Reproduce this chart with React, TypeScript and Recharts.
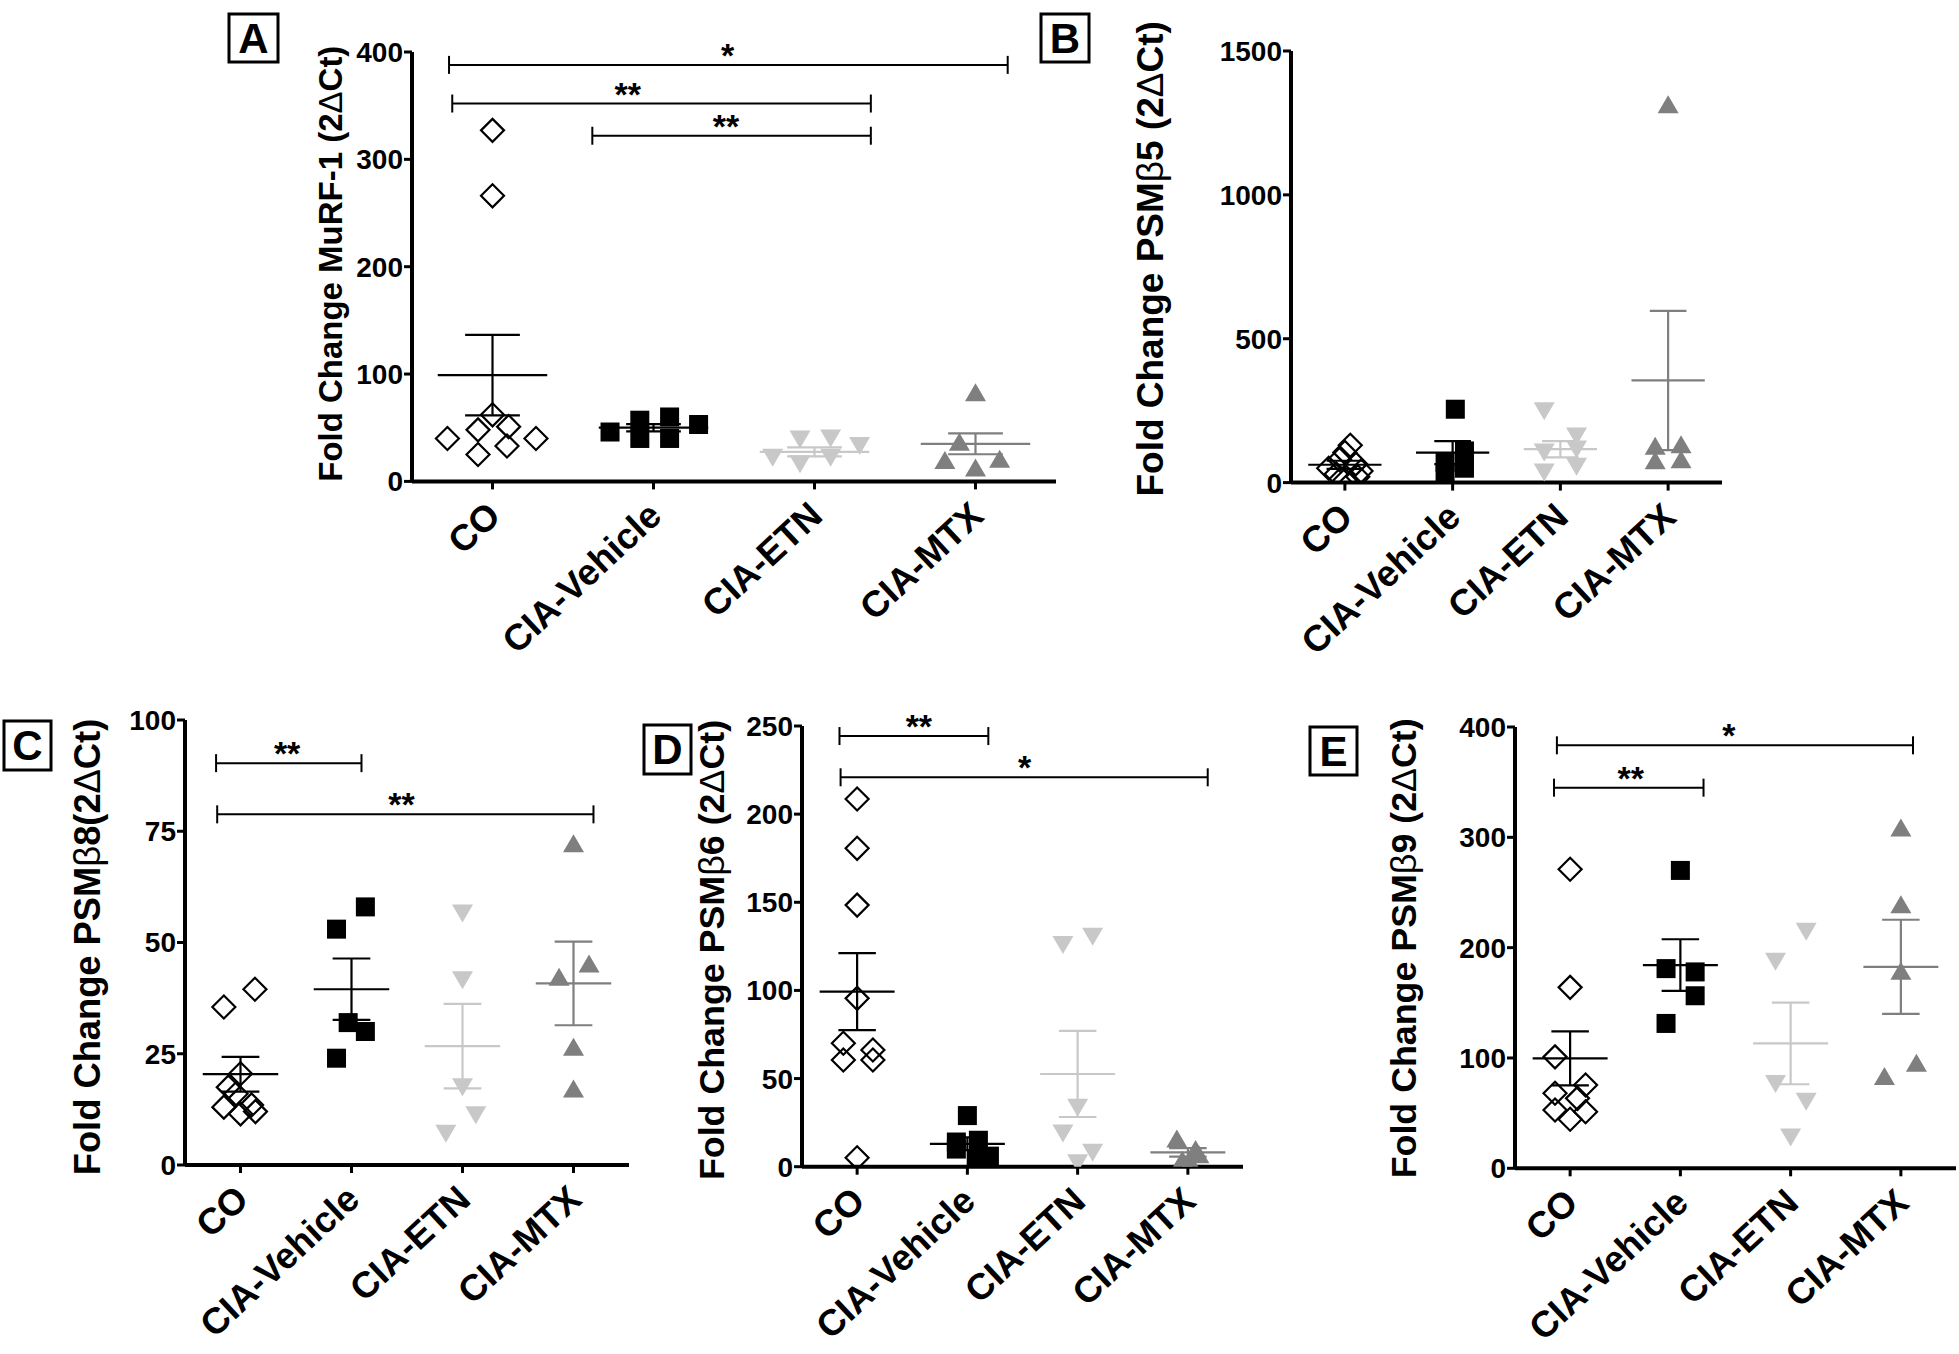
import React from 'react';
import { ScatterChart, Scatter, XAxis, YAxis, ReferenceLine } from 'recharts';

type Pt = [number, number];
type Bracket = { from: number; to: number; y: number; text: string; at: number };

const GROUPS = ['CO', 'CIA-Vehicle', 'CIA-ETN', 'CIA-MTX'];

// Each point: [horizontal spread inside the group (category units), fold change]
// ---- Panel A : MuRF-1
const A_CO: Pt[] = [[0, 327], [0, 266], [0, 62], [-0.09, 48], [0.1, 51], [-0.28, 40], [0.27, 40], [-0.09, 25], [0.09, 33]];
const A_VEH: Pt[] = [[-0.27, 46], [-0.085, 57], [-0.085, 40], [0.1, 60], [0.1, 40], [0.28, 53]];
const A_ETN: Pt[] = [[-0.26, 22], [-0.09, 39], [-0.09, 16], [0.1, 40], [0.1, 22], [0.28, 33]];
const A_MTX: Pt[] = [[0, 83], [-0.1, 37], [-0.19, 20], [0, 13], [0.15, 21]];
const A_MEAN = [99, 50, 27.5, 35];
const A_SEM = [37.5, 3.4, 4.2, 9.7];
const A_TICKS = [0, 100, 200, 300, 400];
const A_BRACKETS: Bracket[] = [
  { from: -0.27, to: 3.2, y: 388, text: '*', at: 1.46 },
  { from: -0.25, to: 2.35, y: 352, text: '**', at: 0.84 },
  { from: 0.62, to: 2.35, y: 322, text: '**', at: 1.45 },
];
const A_TITLE = ['Fold Change MuRF-1 (2', 'Δ', 'Ct)'];

// ---- Panel B : PSMβ5
const B_CO: Pt[] = [[0.05, 130], [0, 105], [-0.05, 80], [0.1, 65], [-0.15, 50], [0.15, 40], [-0.08, 30], [0.12, 20], [0, 8]];
const B_VEH: Pt[] = [[0.025, 255], [0.11, 110], [0.11, 50], [-0.07, 70], [-0.07, 35]];
const B_ETN: Pt[] = [[-0.15, 248], [-0.15, 105], [-0.15, 35], [0.15, 160], [0.15, 115], [0.15, 55]];
const B_MTX: Pt[] = [[0, 1315], [-0.12, 128], [0.12, 133], [-0.12, 78], [0.12, 81]];
const B_MEAN = [62, 104, 116, 355];
const B_SEM = [14, 40, 28, 242];
const B_TICKS = [0, 500, 1000, 1500];
const B_BRACKETS: Bracket[] = [];
const B_TITLE = ['Fold Change PSM', 'β', '5 (2', 'Δ', 'Ct)'];

// ---- Panel C : PSMβ8
const C_CO: Pt[] = [[-0.15, 35.5], [0.13, 39.5], [0, 20.5], [-0.11, 17.5], [-0.04, 16], [-0.15, 13], [0.1, 13.5], [0, 11.5], [0.135, 12]];
const C_VEH: Pt[] = [[-0.135, 53], [0.125, 58], [-0.03, 32], [0.125, 30], [-0.135, 24]];
const C_ETN: Pt[] = [[0, 56.5], [0, 41.5], [0, 17.5], [0.12, 11.2], [-0.15, 7]];
const C_MTX: Pt[] = [[0, 72.3], [0.14, 45.3], [-0.13, 42.3], [0, 26.6], [0, 17.2]];
const C_MEAN = [20.4, 39.5, 26.7, 40.8];
const C_SEM = [3.9, 6.9, 9.5, 9.4];
const C_TICKS = [0, 25, 50, 75, 100];
const C_BRACKETS: Bracket[] = [
  { from: -0.22, to: 1.09, y: 90.3, text: '**', at: 0.42 },
  { from: -0.21, to: 3.18, y: 78.8, text: '**', at: 1.45 },
];
const C_TITLE = ['Fold Change PSM', 'β', '8(2', 'Δ', 'Ct)'];

// ---- Panel D : PSMβ6
const D_CO: Pt[] = [[0, 208.6], [0, 180.6], [0, 148.4], [0, 95.5], [-0.125, 70], [0.143, 66.2], [-0.125, 60.5], [0.143, 60.5], [0, 5.1]];
const D_VEH: Pt[] = [[0, 29], [-0.1, 14], [-0.1, 10], [0.1, 15], [0.2, 6], [0.08, 4]];
const D_ETN: Pt[] = [[-0.133, 125.8], [0.136, 130.5], [0, 33.5], [-0.133, 18.9], [0.136, 7.9], [0, 1.9]];
const D_MTX: Pt[] = [[-0.1, 16], [0.07, 10], [0.02, 3], [0.1, 7], [-0.05, 4]];
const D_MEAN = [99.3, 13, 52.6, 8.1];
const D_SEM = [21.8, 3.6, 24.4, 2.4];
const D_TICKS = [0, 50, 100, 150, 200, 250];
const D_BRACKETS: Bracket[] = [
  { from: -0.16, to: 1.19, y: 244.3, text: '**', at: 0.56 },
  { from: -0.15, to: 3.18, y: 220.9, text: '*', at: 1.52 },
];
const D_TITLE = ['Fold Change PSM', 'β', '6 (2', 'Δ', 'Ct)'];

// ---- Panel E : PSMβ9
const E_CO: Pt[] = [[0, 271], [0, 164], [-0.137, 101], [0.14, 75.5], [-0.137, 68], [0.067, 63.4], [-0.137, 52.8], [0.14, 51.3], [0, 44.4]];
const E_VEH: Pt[] = [[0, 270], [-0.13, 181], [0.134, 178], [0.134, 156.4], [-0.13, 131.3]];
const E_ETN: Pt[] = [[0.141, 214.3], [-0.137, 187.2], [-0.137, 76.4], [0.141, 60.4], [0, 28]];
const E_MTX: Pt[] = [[0, 309], [0, 239.4], [0, 179], [0.141, 95.7], [-0.149, 83.6]];
const E_MEAN = [99.6, 184.2, 113.2, 182.6];
const E_SEM = [24.5, 23.4, 37, 42.7];
const E_TICKS = [0, 100, 200, 300, 400];
const E_BRACKETS: Bracket[] = [
  { from: -0.12, to: 3.11, y: 383.4, text: '*', at: 1.44 },
  { from: -0.146, to: 1.21, y: 345, text: '**', at: 0.55 },
];
const E_TITLE = ['Fold Change PSM', 'β', '9 (2', 'Δ', 'Ct)'];

// ---------------- styling ----------------
const FONT = "'Liberation Sans', Arial, Helvetica, sans-serif";
const ETN_C = '#c8c8c8';
const MTX_C = '#7f7f7f';
const LINE_COLORS = ['#000', '#000', ETN_C, MTX_C];

const Diamond = (p: any) => {
  const { cx, cy } = p;
  if (cx == null || cy == null) return null;
  const r = 11.5;
  return <path d={`M${cx},${cy - r}L${cx + r},${cy}L${cx},${cy + r}L${cx - r},${cy}Z`} fill="none" stroke="#000" strokeWidth={2.2} />;
};
const Square = (p: any) => {
  const { cx, cy } = p;
  if (cx == null || cy == null) return null;
  return <rect x={cx - 9.5} y={cy - 9.5} width={19} height={19} fill="#000" />;
};
const TriDown = (p: any) => {
  const { cx, cy } = p;
  if (cx == null || cy == null) return null;
  return <path d={`M${cx - 10.5},${cy - 9}L${cx + 10.5},${cy - 9}L${cx},${cy + 9}Z`} fill={ETN_C} />;
};
const TriUp = (p: any) => {
  const { cx, cy } = p;
  if (cx == null || cy == null) return null;
  return <path d={`M${cx - 10.5},${cy + 9}L${cx + 10.5},${cy + 9}L${cx},${cy - 9}Z`} fill={MTX_C} />;
};
const SHAPES = [Diamond, Square, TriDown, TriUp];

const XTick = (p: any) => {
  const { x, y, payload } = p;
  const ax = x + 10;
  const ay = y + 27;
  return (
    <text x={ax} y={ay} transform={`rotate(-43, ${ax}, ${ay})`} textAnchor="end" fontFamily={FONT} fontWeight="bold" fontSize={36.5} fill="#000">
      {GROUPS[payload.value]}
    </text>
  );
};

const Title = (p: any) => {
  const { tx, ty, parts, size } = p;
  return (
    <text x={tx} y={ty} transform={`rotate(-90, ${tx}, ${ty})`} textAnchor="middle" dominantBaseline="central" fontFamily={FONT} fontSize={size} fontWeight="bold" fill="#000">
      {parts.map((t: string, i: number) => (
        <tspan key={i} fontWeight={i % 2 === 1 ? 'normal' : 'bold'}>{t}</tspan>
      ))}
    </text>
  );
};

const BracketShape = (p: any) => {
  const { x1, y1, x2, b } = p;
  if (x1 == null) return null;
  const tx = x1 + ((x2 - x1) * (b.at - b.from)) / (b.to - b.from);
  return (
    <g>
      <line x1={x1} y1={y1} x2={x2} y2={y1} stroke="#000" strokeWidth={2} />
      <line x1={x1} y1={y1 - 9} x2={x1} y2={y1 + 9} stroke="#000" strokeWidth={2} />
      <line x1={x2} y1={y1 - 9} x2={x2} y2={y1 + 9} stroke="#000" strokeWidth={2} />
      <text x={tx} y={y1 + 2} textAnchor="middle" fontFamily={FONT} fontWeight="bold" fontSize={34} fill="#000">{b.text}</text>
    </g>
  );
};

type Layout = { left: number; top: number; right: number; bottom: number; titleX: number; titleY: number; titleSize: number };

const LAYOUT: Record<string, Layout> = {
  A: { left: 412, top: 52.3, right: 1056, bottom: 481.7, titleX: 330, titleY: 264, titleSize: 33 },
  B: { left: 1291, top: 50.7, right: 1722, bottom: 482.3, titleX: 1150, titleY: 258.5, titleSize: 37 },
  C: { left: 185, top: 720, right: 629, bottom: 1165, titleX: 87, titleY: 947, titleSize: 36.3 },
  D: { left: 802, top: 726, right: 1243, bottom: 1166.7, titleX: 712, titleY: 950, titleSize: 35.8 },
  E: { left: 1515, top: 726.7, right: 1956, bottom: 1168, titleX: 1404, titleY: 948, titleSize: 35.8 },
};

const BOXES = [
  { label: 'A', x: 229, y: 14, w: 49, h: 48 },
  { label: 'B', x: 1041, y: 14, w: 48, h: 48 },
  { label: 'C', x: 4, y: 721, w: 47, h: 49 },
  { label: 'D', x: 644, y: 725, w: 47, h: 49 },
  { label: 'E', x: 1310, y: 727, w: 47, h: 48 },
];

type PanelProps = {
  layout: Layout;
  yMax: number;
  yTicks: number[];
  title: string[];
  series: Pt[][];
  means: number[];
  sems: number[];
  brackets: Bracket[];
};

function Panel({ layout, yMax, yTicks, title, series, means, sems, brackets }: PanelProps) {
  const LP = 175;
  const TP = 60;
  const BP = Math.min(200, 1354 - layout.bottom);
  const RP = 3;
  const chartLeft = layout.left - LP;
  const chartTop = layout.top - TP;
  const width = layout.right - layout.left + LP + RP;
  const height = layout.bottom - layout.top + TP + BP;
  const axisStyle = { stroke: '#000', strokeWidth: 4 };
  const tickStyle = { stroke: '#000', strokeWidth: 3 };
  return (
    <div style={{ position: 'absolute', left: chartLeft, top: chartTop }}>
      <ScatterChart width={width} height={height} margin={{ top: TP, right: RP, bottom: 0, left: 0 }}>
        <XAxis
          type="number"
          dataKey="x"
          domain={[-0.5, 3.5]}
          ticks={[0, 1, 2, 3]}
          allowDataOverflow
          interval={0}
          height={BP}
          tickSize={8}
          axisLine={axisStyle}
          tickLine={tickStyle}
          tick={<XTick />}
        />
        <YAxis
          type="number"
          dataKey="y"
          domain={[0, yMax]}
          ticks={yTicks}
          allowDataOverflow
          interval={0}
          width={LP}
          tickSize={8}
          tickMargin={1}
          axisLine={axisStyle}
          tickLine={tickStyle}
          tick={{ fontSize: 28, fontWeight: 'bold', fill: '#000', fontFamily: FONT }}
          label={<Title tx={layout.titleX - chartLeft} ty={layout.titleY - chartTop} parts={title} size={layout.titleSize} />}
        />
        {means.map((m, g) => (
          <ReferenceLine key={`m${g}`} ifOverflow="visible" segment={[{ x: g - 0.34, y: m }, { x: g + 0.34, y: m }]} stroke={LINE_COLORS[g]} strokeWidth={2.2} />
        ))}
        {means.map((m, g) => (
          <ReferenceLine key={`v${g}`} ifOverflow="visible" segment={[{ x: g, y: m - sems[g] }, { x: g, y: m + sems[g] }]} stroke={LINE_COLORS[g]} strokeWidth={2.2} />
        ))}
        {means.map((m, g) => (
          <ReferenceLine key={`u${g}`} ifOverflow="visible" segment={[{ x: g - 0.17, y: m + sems[g] }, { x: g + 0.17, y: m + sems[g] }]} stroke={LINE_COLORS[g]} strokeWidth={2.2} />
        ))}
        {means.map((m, g) => (
          <ReferenceLine key={`l${g}`} ifOverflow="visible" segment={[{ x: g - 0.17, y: m - sems[g] }, { x: g + 0.17, y: m - sems[g] }]} stroke={LINE_COLORS[g]} strokeWidth={2.2} />
        ))}
        {brackets.map((b, i) => (
          <ReferenceLine
            key={`b${i}`}
            ifOverflow="visible"
            segment={[{ x: b.from, y: b.y }, { x: b.to, y: b.y }]}
            shape={(p: any) => <BracketShape {...p} b={b} />}
          />
        ))}
        {series.map((pts, g) => {
          const S = SHAPES[g];
          return (
            <Scatter
              key={`s${g}`}
              name={GROUPS[g]}
              data={pts.map(([dx, v]) => ({ x: g + dx, y: v }))}
              shape={(p: any) => <S {...p} />}
              isAnimationActive={false}
            />
          );
        })}
      </ScatterChart>
    </div>
  );
}

export default function App() {
  return (
    <div style={{ position: 'absolute', left: 0, top: 0, width: 1959, height: 1354, overflow: 'hidden', background: '#fff' }}>
      <Panel layout={LAYOUT.A} yMax={400} yTicks={A_TICKS} title={A_TITLE} series={[A_CO, A_VEH, A_ETN, A_MTX]} means={A_MEAN} sems={A_SEM} brackets={A_BRACKETS} />
      <Panel layout={LAYOUT.B} yMax={1500} yTicks={B_TICKS} title={B_TITLE} series={[B_CO, B_VEH, B_ETN, B_MTX]} means={B_MEAN} sems={B_SEM} brackets={B_BRACKETS} />
      <Panel layout={LAYOUT.C} yMax={100} yTicks={C_TICKS} title={C_TITLE} series={[C_CO, C_VEH, C_ETN, C_MTX]} means={C_MEAN} sems={C_SEM} brackets={C_BRACKETS} />
      <Panel layout={LAYOUT.D} yMax={250} yTicks={D_TICKS} title={D_TITLE} series={[D_CO, D_VEH, D_ETN, D_MTX]} means={D_MEAN} sems={D_SEM} brackets={D_BRACKETS} />
      <Panel layout={LAYOUT.E} yMax={400} yTicks={E_TICKS} title={E_TITLE} series={[E_CO, E_VEH, E_ETN, E_MTX]} means={E_MEAN} sems={E_SEM} brackets={E_BRACKETS} />
      <svg width={1959} height={1354} style={{ position: 'absolute', left: 0, top: 0, pointerEvents: 'none' }}>
        {BOXES.map((b) => (
          <g key={b.label}>
            <rect x={b.x} y={b.y} width={b.w} height={b.h} fill="none" stroke="#000" strokeWidth={3} />
            <text x={b.x + b.w / 2} y={b.y + b.h / 2} textAnchor="middle" dominantBaseline="central" fontFamily={FONT} fontWeight="bold" fontSize={42} fill="#000">
              {b.label}
            </text>
          </g>
        ))}
      </svg>
    </div>
  );
}
